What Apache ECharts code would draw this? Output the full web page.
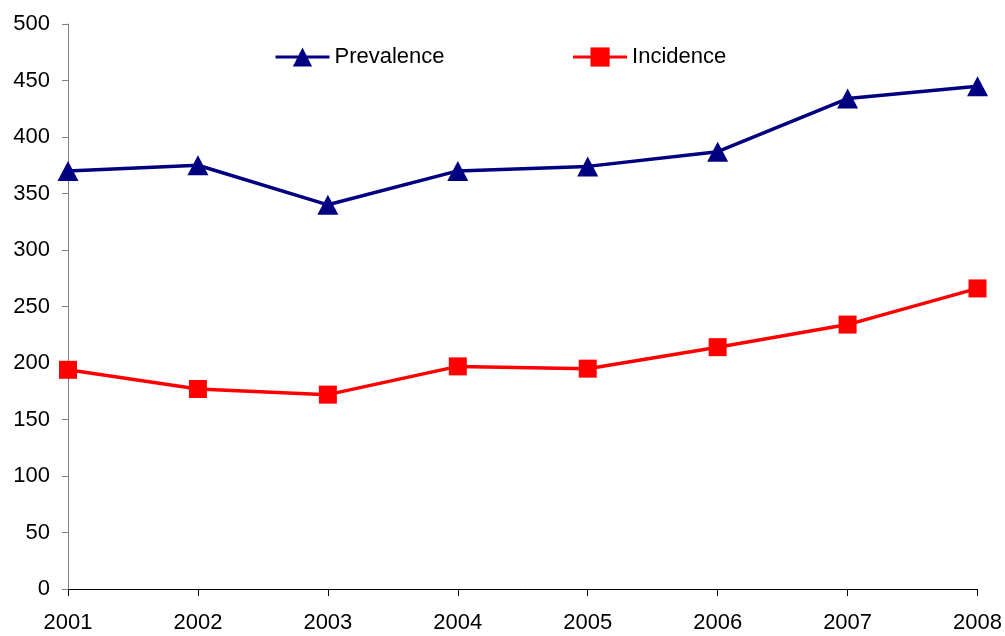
<!DOCTYPE html>
<html><head><meta charset="utf-8">
<script src="https://cdn.jsdelivr.net/npm/echarts@6/dist/echarts.min.js"></script>
<style>html,body{margin:0;padding:0;background:#fff}#c{width:1005px;height:636px}</style>
</head><body><div id="c"></div>
<script>
const years = ['2001','2002','2003','2004','2005','2006','2007','2008'];
const prevalence = [370, 375, 340, 370, 374, 387, 434, 445];
const incidence = [194, 177, 172, 197, 195, 214, 234, 266];
const chart = echarts.init(document.getElementById('c'));
const font = 'Liberation Sans, Arial, sans-serif';
chart.setOption({
  animation: false,
  grid: {left: 68, right: 27, top: 24, bottom: 47},
  legend: {
    top: 46, left: 274, padding: 0, itemGap: 127, itemWidth: 54, itemHeight: 24,
    lineStyle: {width: 3},
    textStyle: {fontFamily: font, fontSize: 22, color: '#000'},
    data: ['Prevalence', 'Incidence']
  },
  xAxis: {
    type: 'category', data: years, boundaryGap: false,
    axisLine: {lineStyle: {color: '#000', width: 1}},
    axisTick: {show: true, length: 7, alignWithLabel: true, lineStyle: {color: '#000'}},
    axisLabel: {fontFamily: font, fontSize: 22, color: '#000', margin: 23, showMaxLabel: true, showMinLabel: true},
    splitLine: {show: false}
  },
  yAxis: {
    type: 'value', min: 0, max: 500, interval: 50,
    axisLine: {show: true, lineStyle: {color: '#808080'}},
    axisTick: {show: true, length: 6, lineStyle: {color: '#808080'}},
    axisLabel: {fontFamily: font, fontSize: 22, color: '#000', margin: 18},
    splitLine: {show: false}
  },
  series: [
    {name: 'Prevalence', type: 'line', data: prevalence, symbol: 'triangle', symbolSize: [21, 20],
     lineStyle: {color: '#000080', width: 3.5}, itemStyle: {color: '#000080'}},
    {name: 'Incidence', type: 'line', data: incidence, symbol: 'rect', symbolSize: 18,
     lineStyle: {color: '#FF0000', width: 3.5}, itemStyle: {color: '#FF0000'}}
  ]
});
</script></body></html>
